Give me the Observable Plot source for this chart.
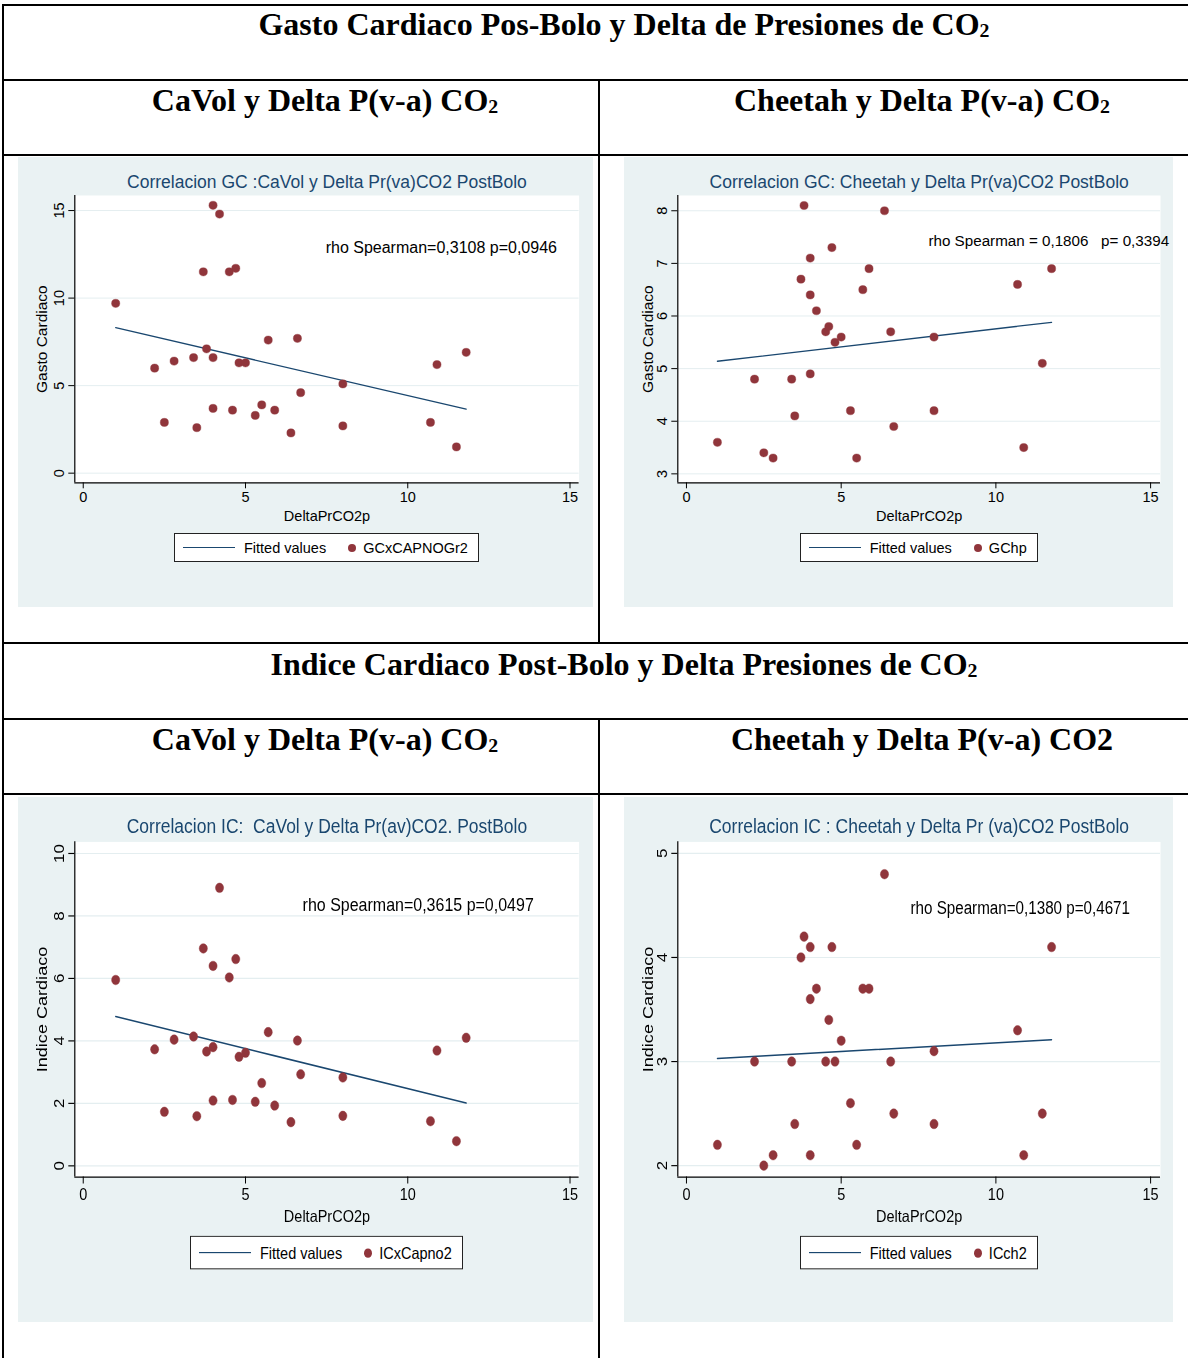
<!DOCTYPE html>
<html>
<head>
<meta charset="utf-8">
<script src="https://cdn.jsdelivr.net/npm/d3@7"></script>
<script src="https://cdn.jsdelivr.net/npm/@observablehq/plot@0.6"></script>
<style>
  body { margin: 0; background: #fff; }
  #page { position: relative; width: 1188px; height: 1358px; overflow: hidden; background: #fff; }
  .hline { position: absolute; height: 2px; background: #000; }
  .vline { position: absolute; width: 2px; background: #000; }
  .hdr { position: absolute; width: 900px; font-family: "Liberation Serif", "Times New Roman", serif; font-weight: bold;
         font-size: 32px; line-height: 32px; text-align: center; white-space: nowrap; color: #000; }
  .hdr .sub { font-size: 0.62em; vertical-align: -0.1em; line-height: 0; }
  .panel { position: absolute; background: #eaf2f3; overflow: hidden; }
  .inner { position: absolute; left: 0; top: 0; height: 450px; transform-origin: 0 0; }
  .inner svg { position: absolute; left: 0; top: 0; }
  .legend { position: absolute; display: flex; align-items: center; background: #fff; border: 1px solid #222;
            font-family: "Liberation Sans", Arial, sans-serif; font-size: 14.5px; color: #000; box-sizing: border-box;
            height: 29px; padding: 0 10px 0 8px; white-space: nowrap; }
  .legend .ln { width: 52px; height: 0; border-top: 1.4px solid #1a476f; margin-right: 9px; }
  .legend .dt { width: 8px; height: 8px; border-radius: 50%; background: #90353b; margin: 0 7px 0 22px; }
</style>
</head>
<body>
<div id="page"></div>
<script>
// ---------------- data ----------------
const xTicks = [0, 5, 10, 15];
const xLabel = "DeltaPrCO2p";
const deltaPrCO2p = [1.0, 2.2, 2.5, 2.8, 3.4, 3.5, 3.7, 3.8, 4.0, 4.0, 4.0, 4.2, 4.5, 4.6, 4.7, 4.8, 5.0, 5.3, 5.5, 5.7, 5.9, 6.4, 6.6, 6.7, 8.0, 8.0, 10.7, 10.9, 11.5, 11.8];
const gcCaVol   = [9.7, 6.0, 2.9, 6.4, 6.6, 2.6, 11.5, 7.1, 15.3, 6.6, 3.7, 14.8, 11.5, 3.6, 11.7, 6.3, 6.3, 3.3, 3.9, 7.6, 3.6, 2.3, 7.7, 4.6, 5.1, 2.7, 2.9, 6.2, 1.5, 6.9];
const gcCheetah = [3.6, 4.8, 3.4, 3.3, 4.8, 4.1, 6.7, 8.1, 7.1, 6.4, 4.9, 6.1, 5.7, 5.8, 7.3, 5.5, 5.6, 4.2, 3.3, 6.5, 6.9, 8.0, 5.7, 3.9, 5.6, 4.2, 6.6, 3.5, 5.1, 6.9];
const icCaVol   = [5.95, 3.73, 1.73, 4.04, 4.14, 1.59, 6.96, 3.66, 6.40, 3.80, 2.09, 8.90, 6.03, 2.11, 6.62, 3.49, 3.62, 2.05, 2.65, 4.28, 1.93, 1.40, 4.01, 2.93, 2.83, 1.60, 1.43, 3.69, 0.79, 4.10];
const icCheetah = [2.2, 3.0, 2.0, 2.1, 3.0, 2.4, 4.0, 4.2, 4.1, 3.6, 2.1, 3.7, 3.0, 3.4, 4.1, 3.0, 3.2, 2.6, 2.2, 3.7, 3.7, 4.8, 3.0, 2.5, 3.1, 2.4, 3.3, 2.1, 2.5, 4.1];
// fitted-values line endpoints
const fitX = [1.0, 11.8];
const fitGcCaVol   = [8.31, 3.66];
const fitGcCheetah = [5.14, 5.88];
const fitIcCaVol   = [4.78, 2.01];
const fitIcCheetah = [3.03, 3.21];
// y ticks
const yTicksGcCaVol   = [0, 5, 10, 15];
const yTicksGcCheetah = [3, 4, 5, 6, 7, 8];
const yTicksIcCaVol   = [0, 2, 4, 6, 8, 10];
const yTicksIcCheetah = [2, 3, 4, 5];
// texts
const titles = [
  "Correlacion GC :CaVol y Delta Pr(va)CO2 PostBolo",
  "Correlacion GC: Cheetah y Delta Pr(va)CO2 PostBolo",
  "Correlacion IC:  CaVol y Delta Pr(av)CO2. PostBolo",
  "Correlacion IC : Cheetah y Delta Pr (va)CO2 PostBolo"
];
const yLabels = ["Gasto Cardiaco", "Gasto Cardiaco", "Indice Cardiaco", "Indice Cardiaco"];
const seriesNames = ["GCxCAPNOGr2", "GChp", "ICxCapno2", "ICch2"];
const fitName = "Fitted values";
const notes = [
  "rho Spearman=0,3108 p=0,0946",
  "rho Spearman = 0,1806   p= 0,3394",
  "rho Spearman=0,3615 p=0,0497",
  "rho Spearman=0,1380 p=0,4671"
];
const noteX = [7.47, 7.82, 6.76, 7.24];
const noteY = [12.87, 7.43, 8.36, 4.47];

// ---------------- layout ----------------
const page = document.getElementById("page");
function addDiv(cls, style, html) {
  const d = document.createElement("div");
  d.className = cls;
  Object.assign(d.style, style);
  if (html) d.innerHTML = html;
  page.appendChild(d);
  return d;
}
// table rules
[4, 79, 154, 642, 718, 793].forEach(y => addDiv("hline", {left: "2px", top: y + "px", width: "1186px"}));
addDiv("vline", {left: "2px", top: "4px", height: "1354px"});
addDiv("vline", {left: "598px", top: "79px", height: "565px"});
addDiv("vline", {left: "598px", top: "718px", height: "640px"});

// headers (center x, top)
const CO2 = 'CO<span class="sub">2</span>';
const headers = [
  [624, 8, "Gasto Cardiaco Pos-Bolo y Delta de Presiones de " + CO2],
  [325, 84, "CaVol y Delta P(v-a) " + CO2],
  [922, 84, "Cheetah y Delta P(v-a) " + CO2],
  [624, 648, "Indice Cardiaco Post-Bolo y Delta Presiones de " + CO2],
  [325, 723, "CaVol y Delta P(v-a) " + CO2],
  [922, 723, "Cheetah y Delta P(v-a) CO2"]
];
headers.forEach(([cx, top, html]) => addDiv("hdr", {left: (cx - 450) + "px", top: top + "px"}, html));

const font = '"Liberation Sans", Arial, Helvetica, sans-serif';
const panels = [
  {left: 18, top: 157, w: 575, h: 450, ml: 56.3, mr: 14.4, xDomain: [-0.26, 15.28], yDomain: [-0.55, 15.86], yTicks: yTicksGcCaVol, y: gcCaVol, fit: fitGcCaVol, noteSize: 16},
  {left: 624, top: 157, w: 549, h: 450, ml: 53.3, mr: 13, xDomain: [-0.28, 15.32], yDomain: [2.83, 8.29], yTicks: yTicksGcCheetah, y: gcCheetah, fit: fitGcCheetah, noteSize: 15.2},
  {left: 18, top: 797, w: 575, h: 525, ml: 56.3, mr: 14.4, xDomain: [-0.26, 15.28], yDomain: [-0.36, 10.37], yTicks: yTicksIcCaVol, y: icCaVol, fit: fitIcCaVol, noteSize: 16},
  {left: 624, top: 797, w: 549, h: 525, ml: 53.3, mr: 13, xDomain: [-0.28, 15.32], yDomain: [1.89, 5.11], yTicks: yTicksIcCheetah, y: icCheetah, fit: fitIcCheetah, noteSize: 15.2}
];

panels.forEach((p, k) => {
  const panel = addDiv("panel", {left: p.left + "px", top: p.top + "px", width: p.w + "px", height: p.h + "px"});
  const inner = document.createElement("div");
  inner.className = "inner";
  inner.style.width = p.w + "px";
  inner.style.transform = `scaleY(${p.h / 450})`;
  panel.appendChild(inner);

  const pts = deltaPrCO2p.map((x, i) => ({x, y: p.y[i]}));
  const fit = fitX.map((x, i) => ({x, y: p.fit[i]}));
  const chart = Plot.plot({
    width: p.w,
    height: 450,
    marginLeft: p.ml,
    marginRight: p.mr,
    marginTop: 38,
    marginBottom: 124.7,
    style: {background: "transparent", fontFamily: font, fontSize: "14.5px", color: "#000", overflow: "visible"},
    x: {domain: p.xDomain},
    y: {domain: p.yDomain},
    marks: [
      Plot.frame({fill: "#fff", stroke: null}),
      Plot.gridY(p.yTicks, {stroke: "#e4eef0", strokeOpacity: 1, strokeWidth: 1}),
      Plot.ruleX([p.xDomain[0]], {stroke: "#000", strokeWidth: 1.2}),
      Plot.ruleY([p.yDomain[0]], {stroke: "#000", strokeWidth: 1.2}),
      Plot.axisX(xTicks, {tickSize: 6, tickPadding: 3, tickFormat: d3.format("d"), label: null, stroke: "#000", fill: "#000"}),
      Plot.axisY(p.yTicks, {tickSize: 6, tickPadding: 5, tickRotate: -90, tickFormat: d3.format("d"), label: null, stroke: "#000", fill: "#000"}),
      Plot.text([yLabels[k]], {text: d => d, frameAnchor: "left", textAnchor: "middle", rotate: -90, dx: -(p.ml - 23.7), fontSize: 15.5, fill: "#000"}),
      Plot.text([xLabel], {text: d => d, frameAnchor: "bottom", dy: 33.7, lineAnchor: "middle", fontSize: 14.5, fill: "#000"}),
      Plot.text([titles[k]], {text: d => d, frameAnchor: "top", dy: -13, lineAnchor: "middle", fontSize: 17.5, fill: "#1a476f"}),
      Plot.line(fit, {x: "x", y: "y", stroke: "#1a476f", strokeWidth: 1.3}),
      Plot.dot(pts, {x: "x", y: "y", r: 4.1, fill: "#90353b", stroke: "#90353b", strokeWidth: 0.4}),
      Plot.text([{x: noteX[k], y: noteY[k], t: notes[k]}], {x: "x", y: "y", text: "t", textAnchor: "start", fontSize: p.noteSize, fill: "#000"})
    ]
  });
  inner.appendChild(chart);

  // legend
  const lg = document.createElement("div");
  lg.className = "legend";
  lg.innerHTML = `<span class="ln"></span><span>${fitName}</span><span class="dt"></span><span>${seriesNames[k]}</span>`;
  inner.appendChild(lg);
  const frameCenter = (p.ml + (p.w - p.mr)) / 2;
  lg.style.top = "376px";
  lg.style.left = (frameCenter - lg.offsetWidth / 2) + "px";
});
</script>
</body>
</html>
